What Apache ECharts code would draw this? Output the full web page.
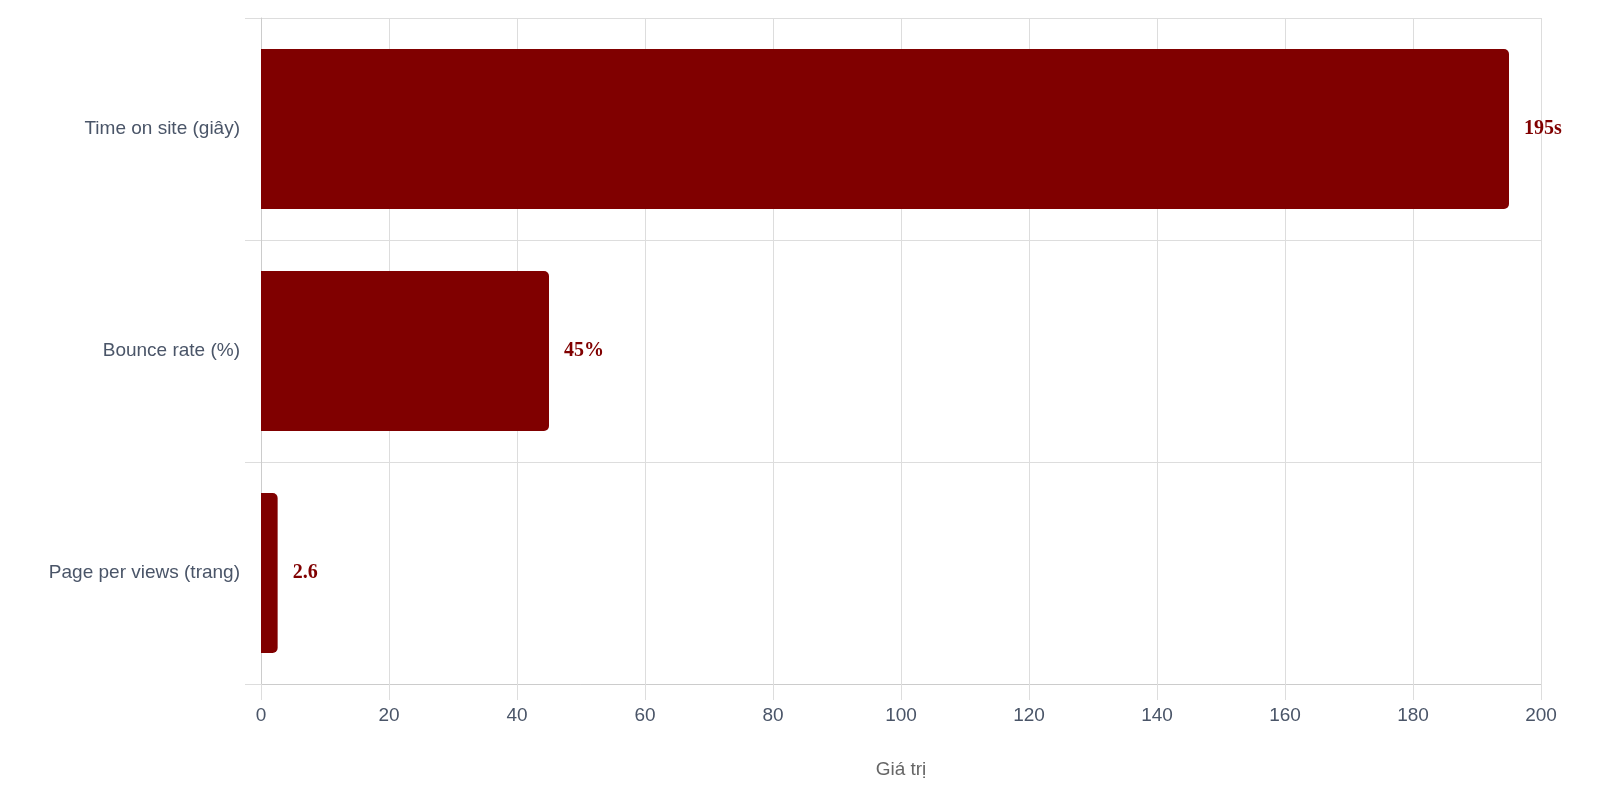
<!DOCTYPE html>
<html><head><meta charset="utf-8">
<script src="https://cdn.jsdelivr.net/npm/echarts@6/dist/echarts.min.js"></script>
<style>html,body{margin:0;padding:0;background:#fff}#c{width:1600px;height:800px}</style>
</head><body><div id="c"></div>
<script>
const categories = ["Time on site (giây)", "Bounce rate (%)", "Page per views (trang)"];
const values = [195, 45, 2.6];
const valueLabels = ["195s", "45%", "2.6"];
const xTicks = [0, 20, 40, 60, 80, 100, 120, 140, 160, 180, 200];

const chart = echarts.init(document.getElementById('c'));
chart.setOption({
  animation: false,
  grid: { left: 261, right: 59, top: 18, bottom: 116, containLabel: false },
  xAxis: {
    type: 'value', min: xTicks[0], max: xTicks[xTicks.length - 1], interval: 20,
    name: 'Giá trị', nameLocation: 'middle', nameGap: 76,
    nameTextStyle: { color: '#666', fontSize: 19, fontFamily: 'Helvetica, Arial, sans-serif' },
    axisLine: { show: true, lineStyle: { color: '#ccc' } },
    axisTick: { show: true, length: 16, lineStyle: { color: '#ddd' } },
    axisLabel: { color: '#4a5568', fontSize: 19, margin: 22, fontFamily: 'Helvetica, Arial, sans-serif' },
    splitLine: { show: true, lineStyle: { color: '#ddd' } }
  },
  yAxis: {
    type: 'category', data: categories, inverse: true,
    axisLine: { show: true, lineStyle: { color: '#ccc' } },
    axisTick: { show: true, length: 16, lineStyle: { color: '#ddd' } },
    axisLabel: { color: '#4a5568', fontSize: 19, margin: 21, fontFamily: 'Helvetica, Arial, sans-serif' },
    splitLine: { show: true, lineStyle: { color: '#ddd' } }
  },
  series: [{
    type: 'bar', data: values, barCategoryGap: '28%',
    itemStyle: { color: '#800000', borderRadius: [0, 5, 5, 0] },
    label: {
      show: true, position: 'right', distance: 15,
      color: '#800000', fontWeight: 'bold', fontSize: 20,
      fontFamily: '"Liberation Serif", "Times New Roman", serif',
      formatter: p => valueLabels[p.dataIndex]
    }
  }]
});
</script></body></html>
